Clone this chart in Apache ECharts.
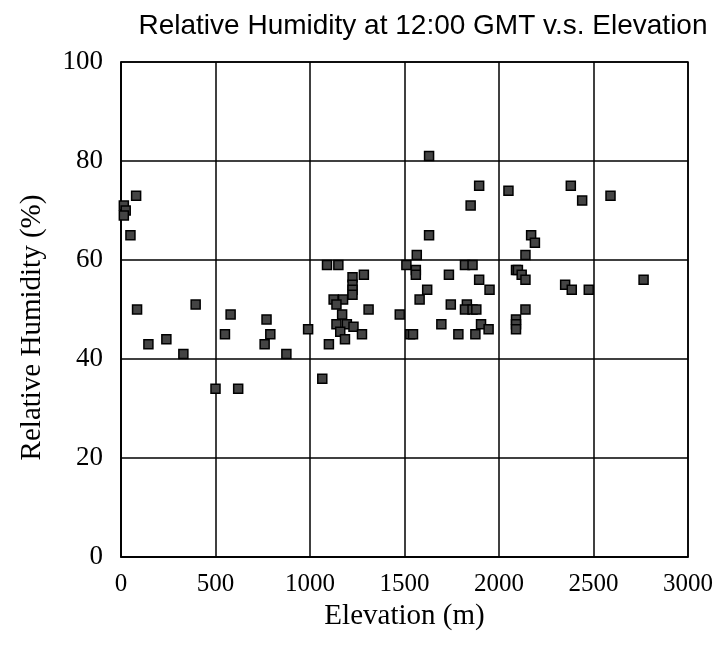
<!DOCTYPE html>
<html>
<head>
<meta charset="utf-8">
<script src="https://cdn.jsdelivr.net/npm/echarts@6/dist/echarts.min.js"></script>
<style>html,body{margin:0;padding:0;background:#fff}#c{width:725px;height:647px}</style>
</head>
<body>
<div id="c"></div>
<script>
const titleText = "Relative Humidity at 12:00 GMT v.s. Elevation";
const xName = "Elevation (m)";
const yName = "Relative Humidity (%)";
const elevation = [15,25,15,80,50,85,145,240,330,395,500,550,580,620,760,770,790,875,990,1065,1090,1150,1100,1125,1175,1140,1170,1140,1195,1230,1160,1185,1225,1225,1225,1225,1285,1310,1275,1475,1510,1565,1560,1560,1530,1545,1580,1620,1630,1630,1695,1735,1745,1785,1820,1860,1850,1895,1895,1830,1820,1860,1880,1875,1905,1945,1950,2050,2090,2100,2120,2140,2140,2170,2190,2140,2090,2090,2090,2350,2385,2380,2440,2475,2590,2765];
const humidity = [71,70,69,73,65,50,43,44,41,51,34,45,49,34,43,48,45,41,46,36,59,59,43,52,52,51,49,47,47,46.5,45.5,44,56.5,55,54,53,57,50,45,49,59,61,58,57,45,45,52,54,65,81,47,57,51,45,59,59,71,75,56,51,50,50,50,45,47,46,54,74,58,58,57,56,61,65,63.5,50,48,47,46,55,54,75,72,54,73,56];
const xTicks = [0,500,1000,1500,2000,2500,3000];
const yTicks = [0,20,40,60,80,100];

const points = elevation.map((e,i)=>[e,humidity[i]]);
const chart = echarts.init(document.getElementById('c'));
const serif = '"Liberation Serif", "DejaVu Serif", serif';
chart.setOption({
  animation:false,
  backgroundColor:'#fff',
  title:{text:titleText,left:418,textAlign:'center',top:7,
    textStyle:{fontFamily:'"Liberation Sans", Arial, sans-serif',fontWeight:'normal',fontSize:28,color:'#000'}},
  grid:{left:121,right:37,top:62,bottom:90,show:true,borderColor:'#000',borderWidth:1.5},
  xAxis:{type:'value',min:xTicks[0],max:xTicks[xTicks.length-1],interval:500,
    name:xName,nameLocation:'middle',nameGap:41,
    nameTextStyle:{fontFamily:serif,fontSize:29,color:'#000'},
    axisLine:{lineStyle:{color:'#000',width:1.5}},axisTick:{show:false},
    axisLabel:{fontFamily:serif,fontSize:25,color:'#000',margin:15,formatter:v=>String(v)},
    splitLine:{lineStyle:{color:'#000',width:1.5}}},
  yAxis:{type:'value',min:yTicks[0],max:yTicks[yTicks.length-1],interval:20,
    name:yName,nameLocation:'middle',nameGap:74,
    nameTextStyle:{fontFamily:serif,fontSize:29,color:'#000',padding:[0,36,0,0]},
    axisLine:{lineStyle:{color:'#000',width:1.5}},axisTick:{show:false},
    axisLabel:{fontFamily:serif,fontSize:27,color:'#000',margin:18,formatter:v=>String(v)},
    splitLine:{lineStyle:{color:'#000',width:1.5}}},
  series:[{type:'scatter',data:points,symbol:'rect',symbolSize:9,
    itemStyle:{color:'#444',borderColor:'#000',borderWidth:1.5,opacity:1}}]
});
</script>
</body>
</html>
